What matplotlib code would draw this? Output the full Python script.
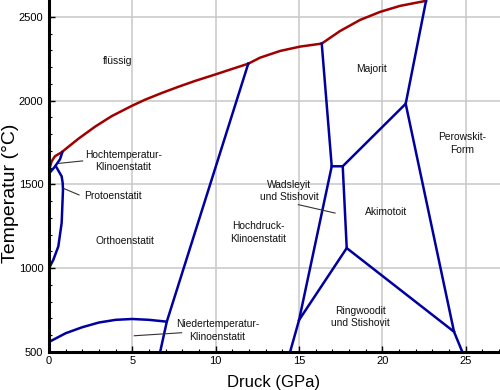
import matplotlib
matplotlib.use('Agg')
import matplotlib.pyplot as plt

plt.rcParams['font.family'] = ['Liberation Sans', 'DejaVu Sans']

# liquidus (red)
liq1_p = [0, 0.05, 0.16, 0.36, 0.76, 0.96, 1.76, 2.76, 3.76, 4.96, 5.76, 6.76, 7.76,
          8.76, 9.96, 10.97, 11.96]
liq1_t = [1565, 1600, 1638, 1668, 1692, 1708, 1772, 1844, 1907, 1968, 2005, 2045, 2082,
          2117, 2155, 2188, 2220]
liq2_p = [11.96, 12.67, 13.87, 15.07, 16.37]
liq2_t = [2220, 2256, 2296, 2322, 2340]
liq3_p = [16.37, 17.47, 18.67, 19.87, 21.07, 22.63]
liq3_t = [2340, 2415, 2481, 2529, 2565, 2595]

# solid phase boundaries (blue)
hk_p = [0, 0.35, 0.66, 0.8]
hk_t = [1565, 1605, 1650, 1692]
proto_p = [0.4, 0.76, 0.82, 0.84, 0.76, 0.56, 0.26, 0]
proto_t = [1610, 1548, 1509, 1469, 1270, 1130, 1050, 1000]
ortho_p = [6.67, 7.07, 11.96]
ortho_t = [500, 681, 2220]
low_p = [0, 1, 2, 3, 4, 5, 6, 7.07]
low_t = [560, 612, 648, 676, 692, 697, 692, 681]
wads_p = [14.47, 15.01, 16.97, 16.37]
wads_t = [500, 691, 1608, 2340]
flat_p = [16.97, 17.63, 17.87, 15.01]
flat_t = [1608, 1608, 1120, 691]
maj_p = [17.63, 21.41, 22.63]
maj_t = [1608, 1981, 2595]
perov_p = [21.41, 24.31, 24.81]
perov_t = [1981, 621, 500]
ring_p = [17.87, 24.31]
ring_t = [1120, 621]

labels = ['flüssig', 'Majorit', 'Perowskit-\nForm', 'Hochtemperatur-\nKlinoenstatit',
          'Protoenstatit', 'Orthoenstatit', 'Hochdruck-\nKlinoenstatit',
          'Wadsleyit\nund Stishovit', 'Akimotoit', 'Ringwoodit\nund Stishovit',
          'Niedertemperatur-\nKlinoenstatit']
label_p = [4.11, 19.33, 24.82, 4.47, 3.84, 4.56, 12.57, 14.41, 20.25, 18.7, 10.12]
label_t = [2238, 2189, 1744, 1640, 1429, 1160, 1212, 1460, 1337, 709, 629]

leaders = [([0.56, 2.02], [1625, 1640]),
           ([0.9, 1.8], [1475, 1437]),
           ([14.97, 17.17], [1379, 1329]),
           ([5.12, 7.96], [597, 615])]

red = '#a00000'
blue = '#0000a0'

fig = plt.figure(figsize=(5, 3.9), dpi=100)
ax = fig.add_axes([0.098, 0.0974, 0.902, 0.9026])

for p, t in [(liq1_p, liq1_t), (liq2_p, liq2_t), (liq3_p, liq3_t)]:
    ax.plot(p, t, color=red, lw=1.8, solid_joinstyle='round')
for p, t in [(hk_p, hk_t), (proto_p, proto_t), (ortho_p, ortho_t), (low_p, low_t),
             (wads_p, wads_t), (flat_p, flat_t), (maj_p, maj_t), (perov_p, perov_t),
             (ring_p, ring_t)]:
    ax.plot(p, t, color=blue, lw=1.8, solid_joinstyle='miter')

for p, t in leaders:
    ax.plot(p, t, color='#333333', lw=0.8)

for s, p, t in zip(labels, label_p, label_t):
    ax.text(p, t, s, ha='center', va='center', fontsize=7.4, linespacing=1.3, color='#111111')

ax.set_xlim(0, 27.07)
ax.set_ylim(500, 2600)
ax.set_xticks([0, 5, 10, 15, 20, 25])
ax.set_yticks([500, 1000, 1500, 2000, 2500])
ax.set_xticks(range(0, 28), minor=True)
ax.set_yticks(range(500, 2600, 100), minor=True)
ax.grid(True, which='major', color='#c8c8c8', lw=1.1)
ax.set_axisbelow(True)
ax.tick_params(which='major', direction='in', length=4, width=1, labelsize=8, pad=3)
ax.tick_params(which='minor', direction='in', length=2.5, width=0.8)
ax.tick_params(axis='y', pad=4)
for side in ['top', 'right']:
    ax.spines[side].set_visible(False)
for side in ['left', 'bottom']:
    ax.spines[side].set_linewidth(2.2)

ax.set_xlabel('Druck (GPa)', fontsize=12)
ax.set_ylabel('Temperatur (°C)', fontsize=14)
ax.xaxis.set_label_coords(0.499, -0.066)
ax.yaxis.set_label_coords(-0.066, 0.45)

fig.savefig('out.png', dpi=100)
